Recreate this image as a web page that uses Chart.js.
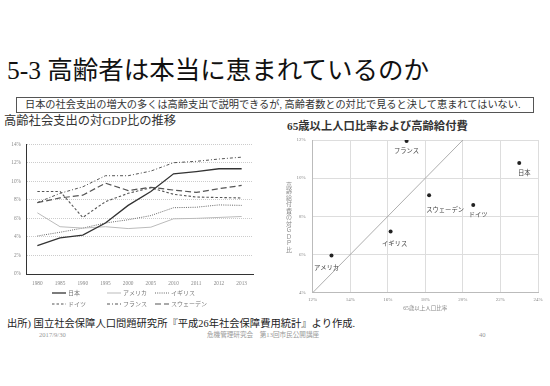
<!DOCTYPE html>
<html>
<head>
<meta charset="utf-8">
<script src="https://cdn.jsdelivr.net/npm/chart.js@4"></script>
<style>
  body { margin: 0; width: 550px; height: 386px; background: #fff; position: relative; overflow: hidden;
         font-family: 'Liberation Serif', 'Noto Sans CJK JP', serif; color: #222; }
  .abs { position: absolute; white-space: nowrap; }
  #title { left: 7px; top: 57px; font-size: 25.5px; line-height: 27px; color: #111; }
  #box { left: 16px; top: 97px; width: 518px; height: 16px; box-sizing: border-box; border: 1px solid #555;
         font-size: 10.2px; line-height: 14px; padding-left: 8px; color: #333; }
  #ltitle { left: 4px; top: 114px; font-size: 12.3px; line-height: 15px; color: #333; }
  #rtitle { left: 287px; top: 119px; font-size: 11.3px; line-height: 14px; color: #333; font-weight: bold; }
  #source { left: 7px; top: 317px; font-size: 10.3px; line-height: 13px; color: #222; }
  .foot { top: 331px; font-size: 6.6px; line-height: 8px; color: #999; }
  canvas { position: absolute; }
</style>
</head>
<body>
<div class="abs" id="title">5-3 高齢者は本当に恵まれているのか</div>
<div class="abs" id="box">日本の社会支出の増大の多くは高齢支出で説明できるが, 高齢者数との対比で見ると決して恵まれてはいない.</div>
<div class="abs" id="ltitle">高齢社会支出の対GDP比の推移</div>
<div class="abs" id="rtitle">65歳以上人口比率および高齢給付費</div>
<canvas id="left" width="272" height="178" style="left:0;top:136px"></canvas>
<canvas id="right" width="275" height="186" style="left:275px;top:130px"></canvas>
<div class="abs" id="source">出所) 国立社会保障人口問題研究所『平成26年社会保障費用統計』より作成.</div>
<div class="abs foot" style="left:39px">2017/9/30</div>
<div class="abs foot" style="left:207px">危機管理研究会　第13回市民公開講座</div>
<div class="abs foot" style="left:479px">40</div>

<script>
// 高齢社会支出の対GDP比 (%)
const years = ["1980", "1985", "1990", "1995", "2000", "2005", "2010", "2011", "2012", "2013"];
const japan = [3.05, 3.9, 4.2, 5.5, 7.4, 8.9, 10.8, 11.05, 11.35, 11.35];
const usa = [6.6, 5.1, 4.95, 5.1, 4.9, 5.05, 5.95, 6.0, 6.1, 6.2];
const uk = [4.1, 4.5, 4.95, 5.5, 5.85, 6.3, 7.15, 7.2, 7.45, 7.4];
const germany = [8.9, 8.9, 6.1, 7.8, 8.7, 9.3, 8.6, 8.3, 8.25, 8.2];
const france = [7.7, 8.7, 9.4, 10.6, 10.6, 11.1, 12.0, 12.15, 12.4, 12.6];
const sweden = [7.7, 8.2, 8.5, 9.8, 9.0, 9.35, 9.05, 8.8, 9.2, 9.55];

// 65歳以上人口比率と高齢給付費 (2010)
const countries = ["日本", "アメリカ", "イギリス", "ドイツ", "フランス", "スウェーデン"];
const ratio65 = [23.0, 13.0, 16.15, 20.55, 17.0, 18.2];
const benefit = [10.8, 5.95, 7.2, 8.6, 11.95, 9.1];
const diagonal = [[12, 4], [20, 12]];

const FONT = "'Liberation Serif', 'Noto Sans CJK JP', serif";
const pct = v => v + "%";

// legend in 3 columns x 2 rows under the line chart
const gridLegend = {
  id: "gridLegend",
  afterDraw(chart) {
    const ctx = chart.ctx;
    const colX = [52, 107, 155];
    const rowY = [157, 168];
    chart.data.datasets.forEach((ds, i) => {
      const x = colX[i % 3], y = rowY[Math.floor(i / 3)];
      ctx.save();
      ctx.strokeStyle = ds.borderColor;
      ctx.lineWidth = ds.borderWidth;
      ctx.setLineDash(ds.borderDash || []);
      ctx.beginPath();
      ctx.moveTo(x, y);
      ctx.lineTo(x + 14, y);
      ctx.stroke();
      ctx.setLineDash([]);
      ctx.fillStyle = "#777";
      ctx.font = "6px " + FONT;
      ctx.textBaseline = "middle";
      ctx.fillText(ds.label, x + 16, y);
      ctx.restore();
    });
  },
};

new Chart(document.getElementById("left"), {
  type: "line",
  data: {
    labels: years,
    datasets: [
      { label: "日本", data: japan, borderColor: "#333", borderWidth: 1.3 },
      { label: "アメリカ", data: usa, borderColor: "#bbb", borderWidth: 1 },
      { label: "イギリス", data: uk, borderColor: "#666", borderWidth: 1, borderDash: [1, 1.2] },
      { label: "ドイツ", data: germany, borderColor: "#555", borderWidth: 1.1, borderDash: [2.5, 2] },
      { label: "フランス", data: france, borderColor: "#555", borderWidth: 1, borderDash: [3, 2, 1, 2] },
      { label: "スウェーデン", data: sweden, borderColor: "#555", borderWidth: 1.2, borderDash: [6, 3] },
    ],
  },
  options: {
    responsive: false,
    animation: false,
    layout: { padding: { top: 5, right: 19, left: 0, bottom: 0 } },
    elements: { point: { radius: 0 }, line: { tension: 0 } },
    plugins: { legend: { display: false }, tooltip: { enabled: false } },
    scales: {
      x: {
        offset: true,
        grid: { display: false, drawTicks: false },
        border: { color: "#333", width: 1 },
        ticks: { color: "#888", font: { size: 5.3, family: FONT }, padding: 6, maxRotation: 0, autoSkip: false },
        afterFit(s) { s.height = 40; },
      },
      y: {
        min: 0,
        max: 14,
        grid: { color: "#ccc", drawTicks: false },
        border: { color: "#333", width: 1, dash: [1, 1] },
        ticks: { stepSize: 2, callback: pct, color: "#888", font: { size: 5.3, family: FONT }, padding: 5 },
        afterFit(s) { s.width = 26; },
      },
    },
  },
  plugins: [gridLegend],
});

// country labels next to the scatter points + vertical y title
const pointLabels = {
  id: "pointLabels",
  afterDatasetsDraw(chart) {
    const ctx = chart.ctx;
    const off = [[5, 10], [-5, 13], [4, 13], [5, 10], [0, 10], [16, 15]];
    ctx.save();
    ctx.fillStyle = "#444";
    ctx.font = "6.3px " + FONT;
    ctx.textAlign = "center";
    ctx.textBaseline = "middle";
    chart.getDatasetMeta(0).data.forEach((el, i) => {
      ctx.fillText(countries[i], el.x + off[i][0], el.y + off[i][1]);
    });
    ctx.fillStyle = "#888";
    ctx.font = "6px " + FONT;
    Array.from("高齢給付費の対ＧＤＰ比").forEach((ch, i) => {
      ctx.fillText(ch, 14, 55 + i * 6.5);
    });
    ctx.restore();
  },
};

new Chart(document.getElementById("right"), {
  type: "scatter",
  data: {
    datasets: [
      {
        data: ratio65.map((x, i) => ({ x: x, y: benefit[i] })),
        pointRadius: 2,
        backgroundColor: "#222",
        borderWidth: 0,
      },
      {
        data: diagonal.map(p => ({ x: p[0], y: p[1] })),
        showLine: true,
        pointRadius: 0,
        borderColor: "#999",
        borderWidth: 0.8,
      },
    ],
  },
  options: {
    responsive: false,
    animation: false,
    layout: { padding: { top: 9, right: 12, left: 0, bottom: 0 } },
    plugins: { legend: { display: false }, tooltip: { enabled: false } },
    scales: {
      x: {
        min: 12,
        max: 24,
        grid: { color: "#ddd", drawTicks: false },
        border: { color: "#bbb", width: 1 },
        ticks: { stepSize: 2, callback: pct, color: "#888", font: { size: 5, family: FONT }, padding: 4 },
        title: { display: true, text: "65歳以上人口比率", color: "#888", font: { size: 5.5, family: FONT }, padding: { top: 0, bottom: 4.5 } },
        afterFit(s) { s.height = 23.3; },
      },
      y: {
        min: 4,
        max: 12,
        grid: { color: "#ddd", drawTicks: false },
        border: { color: "#bbb", width: 1 },
        ticks: { stepSize: 2, callback: pct, color: "#888", font: { size: 5, family: FONT }, padding: 7 },
        afterFit(s) { s.width = 37.7; },
      },
    },
  },
  plugins: [pointLabels],
});
</script>
</body>
</html>
